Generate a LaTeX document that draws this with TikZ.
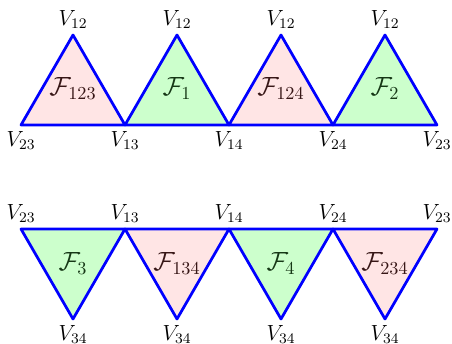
\documentclass[tikz,border=0pt]{standalone}
\definecolor{pinktext}{RGB}{55,22,22}
\definecolor{greentext}{RGB}{22,55,22}
\begin{document}
\begin{tikzpicture}[x=0.5472pt,y=-0.5472pt,
  edge/.style={draw=blue,line width=1.5pt,line join=round},
  pinkface/.style={edge,fill=red,fill opacity=0.1,draw opacity=1},
  greenface/.style={edge,fill=green,fill opacity=0.2,draw opacity=1},
  vlab/.style={font=\large},
  flab/.style={font=\Large,anchor=base},
  pflab/.style={flab,text=pinktext},
  gflab/.style={flab,text=greentext}]
\useasboundingbox (0,0) rectangle (452,344);
% top row vertices
\coordinate (a0) at (21,125);
\coordinate (a1) at (125,125);
\coordinate (a2) at (229,125);
\coordinate (a3) at (333,125);
\coordinate (a4) at (437,125);
\coordinate (p1) at (73,35);
\coordinate (p2) at (177,35);
\coordinate (p3) at (281,35);
\coordinate (p4) at (385,35);
% bottom row vertices
\coordinate (b0) at (21,229);
\coordinate (b1) at (125,229);
\coordinate (b2) at (229,229);
\coordinate (b3) at (333,229);
\coordinate (b4) at (437,229);
\coordinate (q1) at (73,319);
\coordinate (q2) at (177,319);
\coordinate (q3) at (281,319);
\coordinate (q4) at (385,319);
% faces
\path[pinkface] (a0) -- (p1) -- (a1) -- cycle;
\path[greenface] (a1) -- (p2) -- (a2) -- cycle;
\path[pinkface] (a2) -- (p3) -- (a3) -- cycle;
\path[greenface] (a3) -- (p4) -- (a4) -- cycle;
\path[greenface] (b0) -- (q1) -- (b1) -- cycle;
\path[pinkface] (b1) -- (q2) -- (b2) -- cycle;
\path[greenface] (b2) -- (q3) -- (b3) -- cycle;
\path[pinkface] (b3) -- (q4) -- (b4) -- cycle;
% face labels
\node[pflab] (f123) at (73,96) {$\mathcal{F}_{123}$};
\node[gflab] (f1) at (177,96) {$\mathcal{F}_{1}$};
\node[pflab] (f124) at (281,96) {$\mathcal{F}_{124}$};
\node[gflab] (f2) at (385,96) {$\mathcal{F}_{2}$};
\node[gflab] (f3) at (73,271) {$\mathcal{F}_{3}$};
\node[pflab] (f134) at (177,271) {$\mathcal{F}_{134}$};
\node[gflab] (f4) at (281,271) {$\mathcal{F}_{4}$};
\node[pflab] (f234) at (385,271) {$\mathcal{F}_{234}$};
% vertex labels
\foreach \c in {p1,p2,p3,p4} \node[vlab,above] at (\c) {$V_{12}$};
\node[vlab,below] (la0) at (a0) {$V_{23}$};
\node[vlab,below] (la1) at (a1) {$V_{13}$};
\node[vlab,below] (la2) at (a2) {$V_{14}$};
\node[vlab,below] (la3) at (a3) {$V_{24}$};
\node[vlab,below] (la4) at (a4) {$V_{23}$};
\node[vlab,above] (lb0) at (b0) {$V_{23}$};
\node[vlab,above] (lb1) at (b1) {$V_{13}$};
\node[vlab,above] (lb2) at (b2) {$V_{14}$};
\node[vlab,above] (lb3) at (b3) {$V_{24}$};
\node[vlab,above] (lb4) at (b4) {$V_{23}$};
\foreach \c in {q1,q2,q3,q4} \node[vlab,below] at (\c) {$V_{34}$};
\end{tikzpicture}
\end{document}
